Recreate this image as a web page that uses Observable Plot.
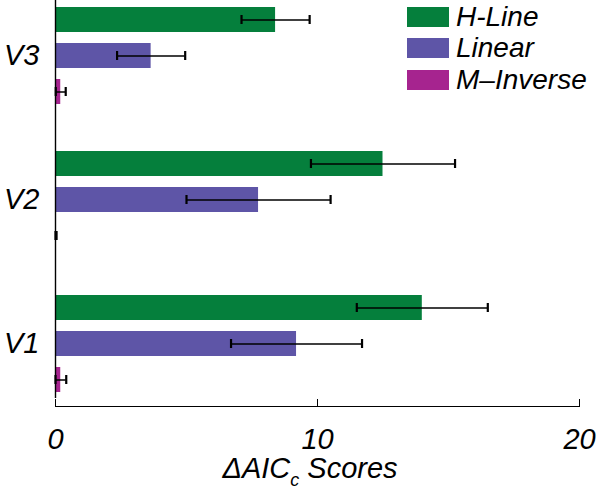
<!DOCTYPE html>
<html>
<head>
<meta charset="utf-8">
<script src="https://cdn.jsdelivr.net/npm/d3@7"></script>
<script src="https://cdn.jsdelivr.net/npm/@observablehq/plot@0.6"></script>
<style>
  html, body { margin: 0; padding: 0; background: #fff; }
  #wrap { position: relative; width: 600px; height: 493px; font-family: "Liberation Sans", Arial, sans-serif; font-style: italic; color: #000; }
  #legend { position: absolute; left: 407px; top: 1px; }
  .row { display: flex; align-items: center; height: 31.5px; }
  .sw { width: 42px; height: 20px; margin-right: 7px; flex: none; }
  .lab { font-size: 28px; line-height: 30px; white-space: nowrap; }
</style>
</head>
<body>
<div id="wrap"><div id="legend"></div></div>
<script>
// ---- data ----
const groups = ["V3", "V2", "V1"];               // top to bottom
const series = ["H-Line", "Linear", "M\u2013Inverse"];
const colors = ["#057f3c", "#5e55a7", "#a6248f"];
const xTicks = [0, 10, 20];
// values per group, in order V3, V2, V1
const hLine       = [8.4, 12.5, 14.0];
const hLineErr    = [1.3, 2.75, 2.5];
const linear      = [3.65, 7.75, 9.2];
const linearErr   = [1.3, 2.75, 2.5];
const mInverse    = [0.2, 0.02, 0.2];
const mInverseErr = [0.19, 0.02, 0.21];

const values = [hLine, linear, mInverse];
const errors = [hLineErr, linearErr, mInverseErr];

// build table
const rows = [];
const keys = [];
groups.forEach((g, gi) => {
  series.forEach((s, si) => {
    const key = g + "|" + s;
    keys.push(key);
    const v = values[si][gi], e = errors[si][gi];
    rows.push({group: g, series: s, key, value: v, lo: Math.max(0, v - e), hi: v + e});
  });
  if (gi < groups.length - 1) keys.push("gap" + gi);
});

const chart = Plot.plot({
  width: 600,
  height: 493,
  marginLeft: 55,
  marginRight: 21,
  marginTop: 0,
  marginBottom: 87,
  style: {fontFamily: "'Liberation Sans', Arial, sans-serif", fontStyle: "italic", fontSize: "29px", color: "#000", background: "transparent"},
  x: {domain: [0, 20], ticks: xTicks, tickSize: -7, tickPadding: 29, line: true, label: null},
  y: {
    domain: keys, paddingInner: 0.3, paddingOuter: 0.14, insetBottom: 6,
    tickSize: 0, tickPadding: 16, label: null,
    tickFormat: k => k.endsWith("|Linear") ? k.split("|")[0] : ""
  },
  color: {domain: series, range: colors},
  marks: [
    Plot.barX(rows, {y: "key", x: "value", fill: "series"}),
    Plot.ruleY(rows, {y: "key", x1: "lo", x2: "hi", stroke: "#000", strokeWidth: 1.5}),
    Plot.tickX(rows, {y: "key", x: "lo", stroke: "#000", strokeWidth: 2.2, insetTop: 8, insetBottom: 8}),
    Plot.tickX(rows, {y: "key", x: "hi", stroke: "#000", strokeWidth: 2.2, insetTop: 8, insetBottom: 8}),
    Plot.ruleX([0], {stroke: "#000", strokeWidth: 1.4, insetBottom: 8})
  ]
});

// axis title with subscript
const xs = chart.scale("x");
const svgNS = "http://www.w3.org/2000/svg";
const t = document.createElementNS(svgNS, "text");
t.setAttribute("x", xs.apply(10) - 7);
t.setAttribute("y", 478);
t.setAttribute("text-anchor", "middle");
t.setAttribute("font-size", "29");
t.setAttribute("font-style", "italic");
t.setAttribute("fill", "#000");
t.appendChild(document.createTextNode("\u0394AIC"));
const sub = document.createElementNS(svgNS, "tspan");
sub.setAttribute("dy", "8");
sub.setAttribute("font-size", "18");
sub.textContent = "c";
t.appendChild(sub);
const rest = document.createElementNS(svgNS, "tspan");
rest.setAttribute("dy", "-8");
rest.textContent = " Scores";
t.appendChild(rest);
chart.appendChild(t);

const wrap = document.getElementById("wrap");
wrap.insertBefore(chart, wrap.firstChild);

// legend
const legend = document.getElementById("legend");
series.forEach((s, i) => {
  const row = document.createElement("div");
  row.className = "row";
  const sw = document.createElement("div");
  sw.className = "sw";
  sw.style.background = colors[i];
  const lab = document.createElement("span");
  lab.className = "lab";
  lab.textContent = s;
  row.appendChild(sw);
  row.appendChild(lab);
  legend.appendChild(row);
});
</script>
</body>
</html>
